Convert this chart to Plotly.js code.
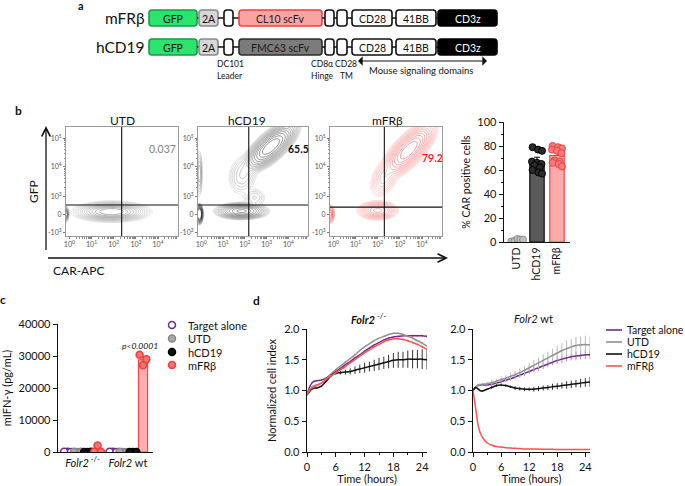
<!DOCTYPE html>
<html><head><meta charset="utf-8">
<script src="https://cdn.plot.ly/plotly-3.0.1.min.js"></script>
<style>html,body{margin:0;padding:0;background:#fff;overflow:hidden}</style>
</head><body><div id="chart" style="width:685px;height:486px"></div>
<script>
// ---------------- DATA ----------------
// a: construct schematic
const constructNames = ['mFRβ', 'hCD19'];
const scfvNames = ['CL10 scFv', 'FMC63 scFv'];
const domainLabels = ['GFP', '2A', '', 'SCFV', '', '', 'CD28', '41BB', 'CD3z'];
const belowLabels = [['DC101', 'Leader'], ['CD8α', 'Hinge'], ['CD28', 'TM']];
const signalingLabel = 'Mouse signaling domains';

// b: flow populations [cx (log decades), cy (display units), sMajor, sMinor, angleDeg, relPeak]
const flowTitles = ['UTD', 'hCD19', 'mFRβ'];
const flowPercent = ['0.037', '65.5', '79.2'];
const utdPops = [
  [1.9, 0.08, 0.56, 0.11, 0, 1.0],
  [-0.15, 0.0, 0.04, 0.08, 0, 1.5]
];
const hcd19Pops = [
  [3.2, 2.25, 0.47, 0.17, 30, 1.0],
  [1.9, 1.3, 0.33, 0.28, 45, 0.03],
  [2.45, 0.55, 0.25, 0.15, 0, 0.02],
  [1.85, 0.1, 0.42, 0.095, 0, 0.5],
  [-0.08, 0.0, 0.05, 0.1, 0, 3.0],
  [-0.08, 1.35, 0.06, 0.35, 0, 0.04]
];
const mfrbPops = [
  [3.4, 2.13, 0.48, 0.18, 35, 1.0],
  [2.3, 1.2, 0.3, 0.2, 45, 0.08],
  [2.0, 0.12, 0.32, 0.11, 0, 0.35],
  [-0.15, 0.0, 0.07, 0.1, 0, 0.6]
];
const flowGateX = [2.36, 2.18, 2.3];
const flowGateY = [0.3, 0.3, 0.23];
const flowXTicks = ['10<sup>0</sup>', '10<sup>1</sup>', '10<sup>2</sup>', '10<sup>3</sup>', '10<sup>4</sup>'];
const flowYTicks = ['-10<sup>3</sup>', '0', '10<sup>3</sup>', '10<sup>4</sup>', '10<sup>5</sup>'];

// b right: % CAR positive cells
const carGroups = ['UTD', 'hCD19', 'mFRβ'];
const carUTD = [0.5, 1, 2.5, 2, 2];
const carHCD19 = [79, 77, 76, 67, 66, 65, 64, 62, 60, 58, 57];
const carMFRB = [80, 79, 78, 77, 76, 74, 68, 67, 66, 65, 63];

// c: IFN-gamma
const ifnGroups = ['<i>Folr2</i><sup> -/-</sup>', '<i>Folr2</i> wt'];
const ifnConds = ['Target alone', 'UTD', 'hCD19', 'mFRβ'];
const ifnTarget = [[50, 80, 30], [40, 60, 30]];
const ifnUTD = [[30, 40, 50], [20, 40, 30]];
const ifnHCD19 = [[20, 30, 40], [10, 20, 30]];
const ifnMFRB = [[2000, 60, 40], [27100, 30400, 29000]];
const ifnP = 'p<0.0001';

// d: normalized cell index
const T = [0,0.5,1,1.5,2,3,4,5,6,7,8,9,10,11,12,13,14,15,16,17,18,19,20,21,22,23,24,25];
const koTarget = [0.93,1.05,1.12,1.15,1.16,1.17,1.20,1.26,1.31,1.36,1.42,1.47,1.53,1.58,1.64,1.69,1.74,1.78,1.82,1.85,1.87,1.88,1.89,1.89,1.89,1.89,1.89,1.88];
const koTargetErr = [0.01,0.01,0.01,0.01,0.01,0.01,0.01,0.01,0.01,0.01,0.01,0.01,0.01,0.01,0.01,0.01,0.01,0.01,0.02,0.02,0.02,0.02,0.02,0.02,0.02,0.02,0.02,0.02];
const koUTD = [0.93,1.00,1.06,1.08,1.09,1.12,1.18,1.27,1.34,1.40,1.46,1.52,1.58,1.65,1.71,1.76,1.81,1.85,1.88,1.91,1.93,1.93,1.91,1.88,1.85,1.81,1.77,1.72];
const koUTDErr = [0.01,0.01,0.01,0.01,0.01,0.01,0.01,0.01,0.01,0.01,0.01,0.01,0.01,0.01,0.01,0.01,0.01,0.01,0.01,0.01,0.01,0.01,0.02,0.02,0.02,0.02,0.02,0.02];
const koHCD19 = [0.93,0.98,1.02,1.04,1.04,1.07,1.15,1.24,1.28,1.29,1.30,1.31,1.33,1.35,1.37,1.39,1.41,1.43,1.45,1.47,1.49,1.50,1.50,1.51,1.51,1.51,1.51,1.50];
const koHCD19Err = [0.01,0.01,0.01,0.01,0.01,0.01,0.01,0.02,0.02,0.03,0.04,0.05,0.06,0.07,0.08,0.08,0.09,0.10,0.10,0.11,0.12,0.13,0.13,0.14,0.15,0.15,0.16,0.16];
const koMFRB = [0.93,1.00,1.04,1.06,1.08,1.12,1.18,1.24,1.29,1.34,1.39,1.45,1.50,1.56,1.61,1.66,1.71,1.75,1.79,1.82,1.84,1.84,1.83,1.81,1.78,1.75,1.71,1.67];
const koMFRBErr = [0.01,0.01,0.01,0.01,0.01,0.01,0.01,0.01,0.01,0.01,0.01,0.01,0.01,0.01,0.01,0.01,0.02,0.02,0.02,0.02,0.02,0.02,0.02,0.02,0.02,0.02,0.02,0.02];
const wtTarget = [1.00,1.05,1.08,1.09,1.09,1.09,1.10,1.12,1.14,1.17,1.19,1.22,1.25,1.28,1.31,1.34,1.37,1.40,1.43,1.46,1.49,1.51,1.53,1.55,1.56,1.57,1.58,1.58];
const wtTargetErr = [0.01,0.02,0.02,0.02,0.02,0.02,0.02,0.03,0.03,0.03,0.03,0.03,0.04,0.04,0.04,0.04,0.05,0.05,0.05,0.05,0.06,0.06,0.06,0.06,0.07,0.07,0.07,0.07];
const wtUTD = [1.00,1.05,1.08,1.09,1.10,1.11,1.13,1.15,1.18,1.20,1.23,1.26,1.29,1.33,1.37,1.41,1.45,1.49,1.53,1.57,1.61,1.65,1.68,1.71,1.73,1.74,1.75,1.74];
const wtUTDErr = [0.01,0.02,0.02,0.03,0.03,0.03,0.04,0.04,0.05,0.05,0.06,0.06,0.07,0.07,0.08,0.09,0.09,0.10,0.10,0.11,0.12,0.12,0.13,0.13,0.14,0.14,0.14,0.14];
const wtHCD19 = [1.00,1.05,1.03,1.00,0.99,1.02,1.05,1.08,1.09,1.08,1.06,1.04,1.03,1.02,1.02,1.02,1.03,1.04,1.05,1.06,1.07,1.08,1.09,1.10,1.11,1.12,1.13,1.14];
const wtHCD19Err = [0.01,0.01,0.01,0.01,0.01,0.01,0.02,0.02,0.02,0.02,0.02,0.03,0.03,0.03,0.03,0.04,0.04,0.04,0.04,0.05,0.05,0.05,0.06,0.06,0.06,0.07,0.07,0.08];
const wtMFRB = [1.00,0.75,0.47,0.32,0.24,0.15,0.11,0.09,0.08,0.07,0.065,0.06,0.055,0.05,0.05,0.048,0.046,0.045,0.044,0.043,0.042,0.041,0.04,0.04,0.04,0.04,0.04,0.04];
const wtMFRBErr = [0.01,0.01,0.01,0.01,0.01,0.01,0.01,0.01,0.01,0.01,0.01,0.01,0.01,0.01,0.01,0.01,0.01,0.01,0.01,0.01,0.01,0.01,0.01,0.01,0.01,0.01,0.01,0.01];
const dSeries = ['Target alone', 'UTD', 'hCD19', 'mFRβ'];

// ---------------- LAYOUT HELPERS ----------------
const W = 685, H = 486;
const FONT = 'Lato, "Open Sans", "DejaVu Sans", sans-serif';
const dX = (a, b) => [a / W, b / W];
const dY = (t, b) => [1 - b / H, 1 - t / H];
const mean = a => a.reduce((s, v) => s + v, 0) / a.length;
const sem = a => { const m = mean(a); return Math.sqrt(a.reduce((s, v) => s + (v - m) * (v - m), 0) / (a.length - 1)) / Math.sqrt(a.length); };

const COL = {
  purple: '#6e2a8c', purpleErr: '#b08cc6',
  gray: '#8f8f8f', grayErr: '#b8b8b8',
  black: '#111111', blackErr: '#333333',
  red: '#ff5252', redErr: '#fba3a3'
};

const traces = [];
const shapes = [];
const annotations = [];
const ann = (x, y, text, opt) => annotations.push(Object.assign({xref: 'x', yref: 'y', x, y, text, showarrow: false, font: {family: FONT, size: 10, color: '#111'}}, opt || {}));
const arrow = (x, y, ax, ay, opt) => annotations.push(Object.assign({xref: 'x', yref: 'y', axref: 'x', ayref: 'y', x, y, ax, ay, text: ' ', showarrow: true, arrowcolor: '#111'}, opt));

// ---------------- PANEL a ----------------
const blockX = [[149, 197], [199, 218], [224, 233], [239, 322], [325, 334], [337, 347], [352, 392], [396, 436], [438, 497]];
const rowY = [18, 47];
const blockH = 16;
function rrect(x0, y0, x1, y1, r) {
  return `M${x0 + r},${y0} L${x1 - r},${y0} Q${x1},${y0} ${x1},${y0 + r} L${x1},${y1 - r} Q${x1},${y1} ${x1 - r},${y1} L${x0 + r},${y1} Q${x0},${y1} ${x0},${y1 - r} L${x0},${y0 + r} Q${x0},${y0} ${x0 + r},${y0} Z`;
}
const blockStyle = (lab, row) => {
  if (lab === 'GFP') return {fill: '#2be46e', line: '#169c46', text: '#111'};
  if (lab === '2A') return {fill: '#d6d6d6', line: '#8a8a8a', text: '#111'};
  if (lab === 'SCFV') return row === 0 ? {fill: '#f9a3a3', line: '#ee4040', text: '#222'} : {fill: '#7b7b7b', line: '#2e2e2e', text: '#1a1a1a'};
  if (lab === 'CD3z') return {fill: '#000', line: '#000', text: '#fff'};
  return {fill: '#fff', line: '#111', text: '#111'};
};
constructNames.forEach((name, r) => {
  const yc = rowY[r];
  ann(147, yc, name, {xanchor: 'right', font: {family: FONT, size: 15.5, color: '#111'}});
  domainLabels.forEach((lab, i) => {
    const [x0, x1] = blockX[i];
    if (i > 0) shapes.push({type: 'line', xref: 'x', yref: 'y', x0: blockX[i - 1][1], x1: x0, y0: yc, y1: yc, line: {color: '#111', width: 1.5}});
    const st = blockStyle(lab, r);
    shapes.push({type: 'path', xref: 'x', yref: 'y', path: rrect(x0, yc - blockH / 2, x1, yc + blockH / 2, 3), fillcolor: st.fill, line: {color: st.line, width: 1.6}});
    const txt = lab === 'SCFV' ? scfvNames[r] : lab;
    if (txt) ann((x0 + x1) / 2, yc + 0.5, txt, {font: {family: FONT, size: 10.5, color: st.text}});
  });
});
ann(81, 5, '<b>a</b>', {font: {family: FONT, size: 11, color: '#111'}});
const belowX = [230, 322, 346];
belowLabels.forEach((pair, i) => {
  ann(belowX[i], 64, pair[0], {font: {family: FONT, size: 8.5, color: '#111'}});
  ann(belowX[i], 76, pair[1], {font: {family: FONT, size: 8.5, color: '#111'}});
});
arrow(487, 61, 355, 61, {arrowhead: 1, startarrowhead: 1, arrowside: 'end+start', arrowsize: 1.3, arrowwidth: 1.2});
ann(421, 70, signalingLabel, {font: {family: FONT, size: 9.5, color: '#111'}});

// ---------------- PANEL b (flow) ----------------
ann(18, 110, '<b>b</b>', {font: {family: FONT, size: 12, color: '#111'}});
const flowBoxes = [[66, 178], [198, 308], [330, 442]];
const flowTop = 127, flowBot = 236;
const flowXRange = [-0.15, 4.9], flowYRange = [-0.73, 2.9];
const flowYVals = [-0.6, 0, 0.57, 1.57, 2.53];
const flowPops = [utdPops, hcd19Pops, mfrbPops];
const flowScales = [
  [[0, '#dcdcdc'], [0.5, '#a8a8a8'], [1, '#555555']],
  [[0, '#c8c8c8'], [0.5, '#707070'], [1, '#1a1a1a']],
  [[0, '#fdd0d0'], [0.5, '#f88a8a'], [1, '#ea3030']]
];
const gx = [], gy = [];
for (let v = flowXRange[0]; v <= flowXRange[1] + 1e-9; v += 0.04) gx.push(+v.toFixed(3));
for (let v = flowYRange[0]; v <= flowYRange[1] + 1e-9; v += 0.03) gy.push(+v.toFixed(3));
function densityGrid(pops) {
  return gy.map(y => gx.map(x => {
    let d = 0;
    pops.forEach(([cx, cy, sa, sb, ang, pk]) => {
      const c = Math.cos(ang * Math.PI / 180), s = Math.sin(ang * Math.PI / 180);
      const ddx = x - cx, ddy = y - cy;
      const u = (ddx * c + ddy * s) / sa, w = (-ddx * s + ddy * c) / sb;
      d += pk * Math.exp(-0.5 * (u * u + w * w));
    });
    return Math.log10(d + 1e-9);
  }));
}
const minorX = [];
for (let d = 0; d < 5; d++) for (let k = 2; k <= 9; k++) { const v = d + Math.log10(k); if (v < flowXRange[1]) minorX.push(v); }
const minorY = [];
for (let k = 2; k <= 9; k++) { minorY.push(0.57 + Math.log10(k)); minorY.push(1.57 + 0.96 * Math.log10(k)); }
const layoutAxes = {};
flowTitles.forEach((title, i) => {
  const n = i + 2;
  const xa = 'x' + n, ya = 'y' + n;
  traces.push({type: 'contour', x: gx, y: gy, z: densityGrid(flowPops[i]), xaxis: xa, yaxis: ya,
    showscale: false, hoverinfo: 'skip', colorscale: flowScales[i], zmin: -2.4, zmax: 0,
    contours: {coloring: 'lines', start: -2.4, end: -0.12, size: 0.17},
    line: {width: 0.5, smoothing: 1.3}});
  layoutAxes['xaxis' + n] = {domain: dX(flowBoxes[i][0], flowBoxes[i][1]), anchor: ya, range: flowXRange,
    showline: true, mirror: true, linecolor: '#9a9a9a', linewidth: 1, showgrid: false, zeroline: false,
    tickmode: 'array', tickvals: [0, 1, 2, 3, 4], ticktext: flowXTicks, ticks: 'outside', ticklen: 2, tickcolor: '#777',
    tickfont: {family: FONT, size: 7, color: '#555'},
    minor: {tickmode: 'array', tickvals: minorX, ticks: 'outside', ticklen: 1.5, tickcolor: '#888'}};
  layoutAxes['yaxis' + n] = {domain: dY(flowTop, flowBot), anchor: xa, range: flowYRange,
    showline: true, mirror: true, linecolor: '#9a9a9a', linewidth: 1, showgrid: false, zeroline: false,
    tickmode: 'array', tickvals: flowYVals, ticktext: flowYTicks, ticks: 'outside', ticklen: 2, tickcolor: '#777',
    tickfont: {family: FONT, size: 7, color: '#555'},
    minor: {tickmode: 'array', tickvals: minorY, ticks: 'outside', ticklen: 1.5, tickcolor: '#888'}};
  shapes.push({type: 'line', xref: xa, yref: ya, x0: flowGateX[i], x1: flowGateX[i], y0: flowYRange[0], y1: flowYRange[1], line: {color: '#111', width: 1.1}});
  shapes.push({type: 'line', xref: xa, yref: ya, x0: flowXRange[0], x1: flowXRange[1], y0: flowGateY[i], y1: flowGateY[i], line: {color: '#111', width: 1.1}});
});
ann(122, 120, flowTitles[0], {font: {family: FONT, size: 12, color: '#111'}});
ann(247, 120, flowTitles[1], {font: {family: FONT, size: 12, color: '#111'}});
ann(387, 120, flowTitles[2], {font: {family: FONT, size: 12, color: '#111'}});
ann(162, 149, flowPercent[0], {font: {family: FONT, size: 10.5, color: '#7f7f7f'}});
ann(298, 149, '<b>' + flowPercent[1] + '</b>', {font: {family: FONT, size: 10.5, color: '#111'}});
ann(432, 158, '<b>' + flowPercent[2] + '</b>', {font: {family: FONT, size: 10.5, color: '#ff2020'}});
arrow(46, 126, 46, 259, {arrowhead: 5, arrowsize: 1.3, arrowwidth: 1.3});
arrow(448, 258, 45, 258, {arrowhead: 5, arrowsize: 1.3, arrowwidth: 1.3});
ann(33, 192, 'GFP', {textangle: -90, font: {family: FONT, size: 12, color: '#111'}});
ann(78, 270, 'CAR-APC', {font: {family: FONT, size: 12, color: '#111'}});

// ---------------- PANEL b (bar) ----------------
const carSets = [carUTD, carHCD19, carMFRB];
const carStyle = [
  {fill: '#c4c4c4', line: '#8c8c8c', pt: '#bdbdbd', ptLine: '#8a8a8a', err: '#8c8c8c'},
  {fill: '#5a5a5a', line: '#111', pt: '#2b2b2b', ptLine: '#000', err: '#111'},
  {fill: '#fdaaaa', line: '#f04848', pt: '#fb7a7a', ptLine: '#ef3f3f', err: '#ef3f3f'}
];
const jit11 = [-0.22, 0.05, 0.25, -0.25, 0.0, 0.22, -0.12, 0.14, -0.22, 0.08, 0.25];
const jit5 = [-0.28, -0.12, 0.02, 0.16, 0.3];
carSets.forEach((vals, i) => {
  traces.push({type: 'bar', x: [i], y: [mean(vals)], width: 0.72, xaxis: 'x5', yaxis: 'y5', hoverinfo: 'skip',
    marker: {color: carStyle[i].fill, line: {color: carStyle[i].line, width: 1.2}},
    error_y: {type: 'data', array: [sem(vals) * 1.8], arrayminus: [0], color: carStyle[i].err, thickness: 1.2, width: 3}});
  const jit = vals.length === 5 ? jit5 : jit11;
  traces.push({type: 'scatter', mode: 'markers', x: vals.map((v, k) => i + jit[k]), y: vals, xaxis: 'x5', yaxis: 'y5', hoverinfo: 'skip',
    marker: {size: 7, color: carStyle[i].pt, line: {color: carStyle[i].ptLine, width: 1}}});
});
layoutAxes.xaxis5 = {domain: dX(504, 570), anchor: 'y5', range: [-0.65, 2.65], showline: true, linecolor: '#111', linewidth: 1.3,
  showgrid: false, zeroline: false, tickmode: 'array', tickvals: [0, 1, 2], ticktext: carGroups, tickangle: -90, ticks: '',
  tickfont: {family: FONT, size: 10.5, color: '#111'}};
layoutAxes.yaxis5 = {domain: dY(122, 242), anchor: 'x5', range: [0, 100], showline: true, linecolor: '#111', linewidth: 1.3,
  showgrid: false, zeroline: false, tickvals: [0, 20, 40, 60, 80, 100], ticks: 'outside', ticklen: 4, tickcolor: '#111',
  tickfont: {family: FONT, size: 11, color: '#111'},
  minor: {dtick: 10, ticks: 'outside', ticklen: 2, tickcolor: '#111'},
  title: {text: '% CAR positive cells', font: {family: FONT, size: 10.5, color: '#111'}, standoff: 4}};

// ---------------- PANEL c ----------------
ann(3, 299, '<b>c</b>', {font: {family: FONT, size: 12, color: '#111'}});
const ifnSets = [ifnTarget, ifnUTD, ifnHCD19, ifnMFRB];
const ifnStyle = [
  {fill: '#ffffff', line: '#6e2a8c', pt: '#ffffff', ptLine: '#6e2a8c'},
  {fill: '#c4c4c4', line: '#8c8c8c', pt: '#a8a8a8', ptLine: '#858585'},
  {fill: '#333', line: '#111', pt: '#111', ptLine: '#000'},
  {fill: '#fdb0b0', line: '#f04848', pt: '#fb7272', ptLine: '#ef3f3f'}
];
const condOffset = [-0.33, -0.11, 0.11, 0.33];
const repJit = [0, -0.075, 0.075];
ifnSets.forEach((set, ci) => {
  const xs = ifnGroups.map((g, gi) => gi + condOffset[ci]);
  traces.push({type: 'bar', x: xs, y: set.map(mean), width: 0.2, xaxis: 'x6', yaxis: 'y6', hoverinfo: 'skip',
    marker: {color: ifnStyle[ci].fill, line: {color: ifnStyle[ci].line, width: 1.2}},
    error_y: {type: 'data', array: set.map(a => sem(a)), arrayminus: set.map(() => 0), color: ifnStyle[ci].line, thickness: 1.2, width: 2.5}});
  const px = [], py = [];
  set.forEach((reps, gi) => reps.forEach((v, k) => { px.push(gi + condOffset[ci] + repJit[k]); py.push(v); }));
  traces.push({type: 'scatter', mode: 'markers', x: px, y: py, xaxis: 'x6', yaxis: 'y6', hoverinfo: 'skip',
    marker: {size: 7, color: ifnStyle[ci].pt, line: {color: ifnStyle[ci].ptLine, width: 1.5}}});
});
layoutAxes.xaxis6 = {domain: dX(58, 153), anchor: 'y6', range: [-0.54, 1.55], showline: true, linecolor: '#111', linewidth: 1.3,
  showgrid: false, zeroline: false, tickmode: 'array', tickvals: [0, 1], ticktext: ifnGroups, ticks: '',
  tickfont: {family: FONT, size: 11, color: '#111'}};
layoutAxes.yaxis6 = {domain: dY(324, 452), anchor: 'x6', range: [0, 40000], showline: true, linecolor: '#111', linewidth: 1.3,
  showgrid: false, zeroline: false, tickvals: [0, 10000, 20000, 30000, 40000], tickformat: 'd', ticks: 'outside', ticklen: 4, tickcolor: '#111',
  tickfont: {family: FONT, size: 11, color: '#111'},
  title: {text: 'mIFN-γ (pg/mL)', font: {family: FONT, size: 11, color: '#111'}, standoff: 6}};
ann(140, 346, '<i>' + ifnP + '</i>', {font: {family: FONT, size: 8.5, color: '#111'}});
const legCY = [325, 338.5, 352, 365];
ifnConds.forEach((c, i) => {
  shapes.push({type: 'circle', xref: 'x', yref: 'y', x0: 168.5, x1: 175.5, y0: legCY[i] - 3.5, y1: legCY[i] + 3.5,
    fillcolor: ifnStyle[i].pt, line: {color: ifnStyle[i].ptLine, width: 1.5}});
  ann(186, legCY[i], c, {xanchor: 'left', font: {family: FONT, size: 11, color: '#111'}});
});

// ---------------- PANEL d ----------------
ann(256, 300, '<b>d</b>', {font: {family: FONT, size: 12, color: '#111'}});
const dStyle = [
  {line: COL.purple, err: COL.purpleErr},
  {line: COL.gray, err: COL.grayErr},
  {line: COL.black, err: COL.blackErr},
  {line: COL.red, err: COL.redErr}
];
const koSets = [[koTarget, koTargetErr], [koUTD, koUTDErr], [koHCD19, koHCD19Err], [koMFRB, koMFRBErr]];
const wtSets = [[wtTarget, wtTargetErr], [wtUTD, wtUTDErr], [wtHCD19, wtHCD19Err], [wtMFRB, wtMFRBErr]];
[[koSets, 'x7', 'y7'], [wtSets, 'x8', 'y8']].forEach(([sets, xa, ya]) => {
  sets.forEach(([vals, err], i) => {
    traces.push({type: 'scatter', mode: 'lines', x: T, y: vals, xaxis: xa, yaxis: ya, hoverinfo: 'skip',
      line: {color: dStyle[i].line, width: 1.5, shape: 'spline', smoothing: 0.6},
      error_y: {type: 'data', array: err, color: dStyle[i].err, thickness: 1, width: 0}});
  });
});
const dXAxis = (dom, ya) => ({domain: dom, anchor: ya, range: [0, 25], showline: true, linecolor: '#111', linewidth: 1.3,
  showgrid: false, zeroline: false, tickvals: [0, 6, 12, 18, 24], ticks: 'outside', ticklen: 4, tickcolor: '#111',
  tickfont: {family: FONT, size: 11, color: '#111'},
  minor: {dtick: 3, ticks: 'outside', ticklen: 2, tickcolor: '#111'},
  title: {text: 'Time (hours)', font: {family: FONT, size: 11, color: '#111'}, standoff: 2}});
const dYAxis = (xa, withTitle) => ({domain: dY(329, 452), anchor: xa, range: [0, 2], showline: true, linecolor: '#111', linewidth: 1.3,
  showgrid: false, zeroline: false, tickvals: [0, 0.5, 1, 1.5, 2], tickformat: '.1f', ticks: 'outside', ticklen: 4, tickcolor: '#111',
  tickfont: {family: FONT, size: 11, color: '#111'},
  title: withTitle ? {text: 'Normalized cell index', font: {family: FONT, size: 11, color: '#111'}, standoff: 5} : {text: ''}});
layoutAxes.xaxis7 = dXAxis(dX(307, 427), 'y7');
layoutAxes.yaxis7 = dYAxis('x7', true);
layoutAxes.xaxis8 = dXAxis(dX(473, 590), 'y8');
layoutAxes.yaxis8 = dYAxis('x8', false);
ann(368, 318, '<b><i>Folr2</i></b><sup> -/-</sup>', {font: {family: FONT, size: 11, color: '#111'}});
ann(533, 318, '<i>Folr2</i> wt', {font: {family: FONT, size: 11, color: '#111'}});
const legDY = [330, 342, 354, 366];
dSeries.forEach((s, i) => {
  shapes.push({type: 'line', xref: 'x', yref: 'y', x0: 606, x1: 622, y0: legDY[i], y1: legDY[i], line: {color: dStyle[i].line, width: 1.6}});
  ann(625, legDY[i], s, {xanchor: 'left', font: {family: FONT, size: 10.5, color: '#111'}});
});

// ---------------- RENDER ----------------
const layout = Object.assign({
  width: W, height: H, margin: {l: 0, r: 0, t: 0, b: 0}, paper_bgcolor: '#fff', plot_bgcolor: 'rgba(0,0,0,0)',
  showlegend: false, barmode: 'overlay', font: {family: FONT, color: '#111'},
  xaxis: {domain: [0, 1], range: [0, W], visible: false, fixedrange: true},
  yaxis: {domain: [0, 1], range: [H, 0], visible: false, fixedrange: true},
  shapes, annotations
}, layoutAxes);
Plotly.newPlot('chart', traces, layout, {displayModeBar: false, staticPlot: true});
</script></body></html>
